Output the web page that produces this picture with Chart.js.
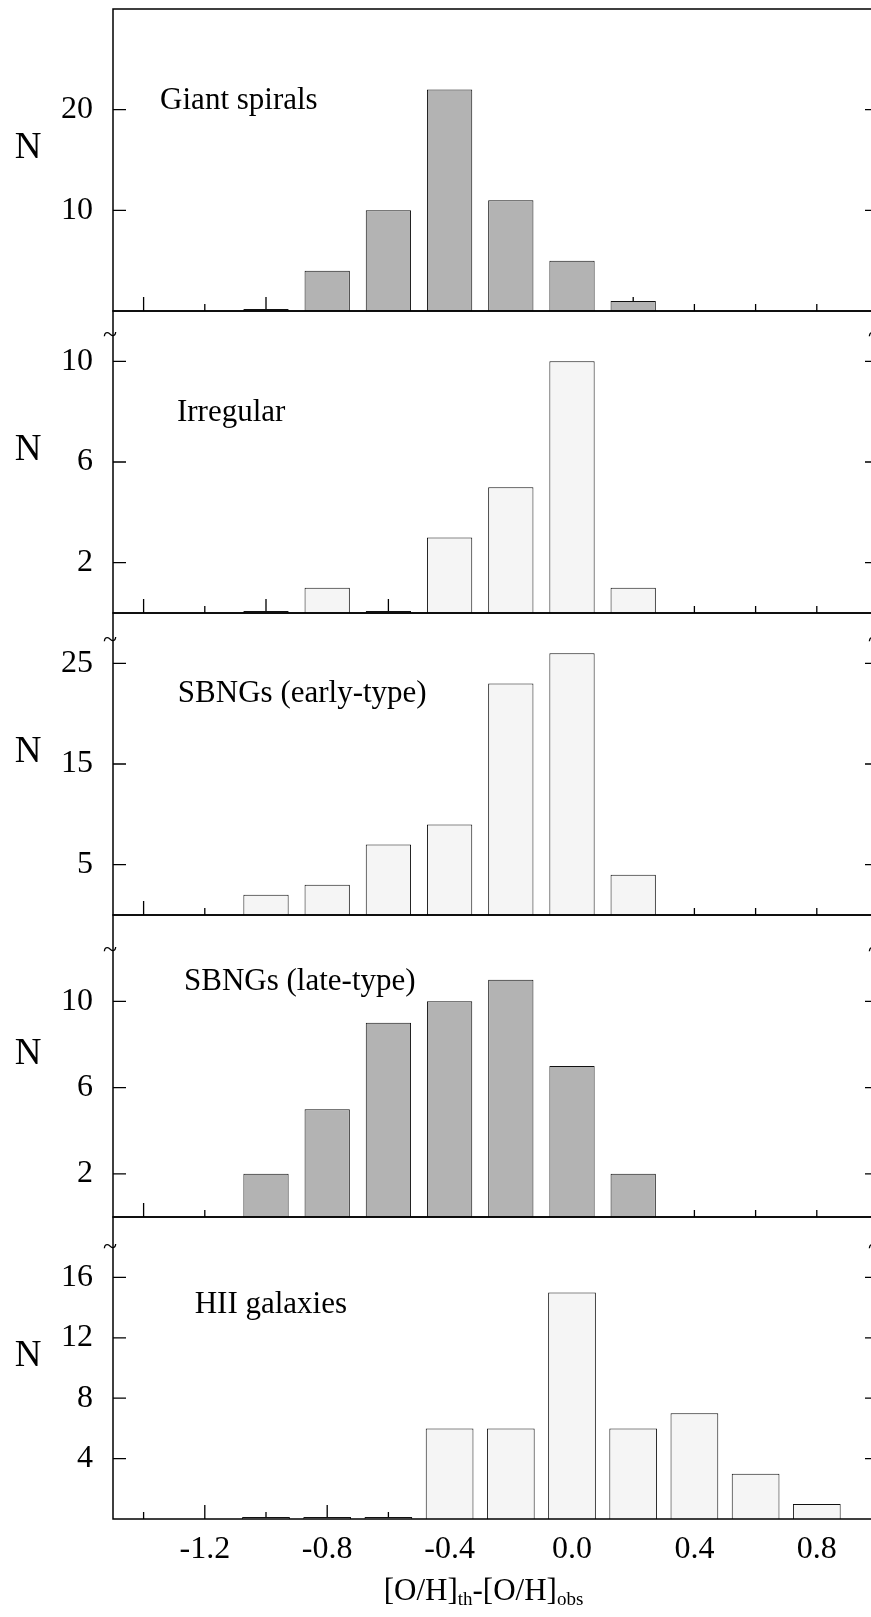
<!DOCTYPE html>
<html>
<head>
<meta charset="utf-8">
<title>[O/H] residual histograms</title>
<script src="https://cdn.jsdelivr.net/npm/chart.js@4.4.1/dist/chart.umd.min.js"></script>
<style>
  html, body { margin: 0; padding: 0; background: #fff; overflow: hidden; }
  #wrap { position: relative; width: 871px; height: 1617px; overflow: hidden; }
  .panel { position: absolute; left: 0; width: 880px; }
</style>
</head>
<body>
<div id="wrap">
  <div class="panel" style="top:-1px;height:322px"><canvas id="c0"></canvas></div>
  <div class="panel" style="top:301px;height:322px"><canvas id="c1"></canvas></div>
  <div class="panel" style="top:603px;height:322px"><canvas id="c2"></canvas></div>
  <div class="panel" style="top:905px;height:322px"><canvas id="c3"></canvas></div>
  <div class="panel" style="top:1207px;height:410px"><canvas id="c4"></canvas></div>
</div>
<script>
// bin centres of [O/H]th - [O/H]obs, and counts per galaxy class (null = no bar)
const bins = [-1.0, -0.8, -0.6, -0.4, -0.2, 0.0, 0.2, 0.4, 0.6, 0.8];
const giantSpirals = [0, 4, 10, 22, 11, 5, 1, null, null, null];
const irregular = [0, 1, 0, 3, 5, 10, 1, null, null, null];
const sbngEarly = [2, 3, 7, 9, 23, 26, 4, null, null, null];
const sbngLate = [2, 5, 9, 10, 11, 7, 2, null, null, null];
const hiiGalaxies = [0, 0, 0, 6, 6, 15, 6, 7, 3, 1];

const panelNames = ['Giant spirals', 'Irregular', 'SBNGs (early-type)', 'SBNGs (late-type)', 'HII galaxies'];
const yMax = [30, 12, 30, 14, 20];
const yTicks = [[10, 20], [2, 6, 10], [5, 15, 25], [2, 6, 10], [4, 8, 12, 16]];
const xTickLabels = [-1.2, -0.8, -0.4, 0.0, 0.4, 0.8];
const xTickMarks = [-1.4, -1.2, -1.0, -0.8, -0.6, -0.4, -0.2, 0.0, 0.2, 0.4, 0.6, 0.8];

// styling / placement (not data)
const serif = "'Liberation Serif', 'Times New Roman', serif";
const darkFill = '#b3b3b3';
const lightFill = '#f5f5f5';
const labelPos = [[-1.346, 20.1], [-1.291, 7.64], [-1.288, 21.2], [-1.268, 10.54], [-1.233, 13.65]];
const tildeOffset = [null, 24, 27, 35, 30];

const decor = {
  id: 'decor',
  beforeDatasetsDraw(chart, args, opts) {
    const { ctx, chartArea: a, scales: { x, y } } = chart;
    ctx.save();
    ctx.strokeStyle = '#000';
    ctx.lineWidth = 1.3;
    ctx.beginPath();
    xTickMarks.forEach((v, i) => {
      const long = opts.last ? i % 2 === 1 : (i % 2 === 0 && i <= 8);
      const px = x.getPixelForValue(v);
      ctx.moveTo(px, a.bottom);
      ctx.lineTo(px, a.bottom - (long ? 14 : 7));
    });
    yTicks[opts.idx].forEach(v => {
      const py = y.getPixelForValue(v);
      ctx.moveTo(a.left, py);
      ctx.lineTo(a.left + 13, py);
      ctx.moveTo(a.right, py);
      ctx.lineTo(a.right - 13, py);
    });
    ctx.stroke();
    ctx.restore();
  },
  afterDatasetsDraw(chart, args, opts) {
    const { ctx, chartArea: a, scales: { x, y } } = chart;
    const i = opts.idx;
    ctx.save();
    ctx.strokeStyle = '#000';
    ctx.lineWidth = 1.5;
    ctx.strokeRect(a.left, a.top, a.right - a.left, a.bottom - a.top);

    ctx.fillStyle = '#000';
    if (tildeOffset[i] !== null) {
      ctx.font = '26px ' + serif;
      ctx.textAlign = 'center';
      ctx.textBaseline = 'middle';
      ctx.fillText('~', a.left - 3, a.top + tildeOffset[i]);
      ctx.fillText('~', a.right - 3, a.top + tildeOffset[i]);
    }

    ctx.font = '31px ' + serif;
    ctx.textAlign = 'left';
    ctx.textBaseline = 'alphabetic';
    ctx.fillText(panelNames[i], x.getPixelForValue(labelPos[i][0]), y.getPixelForValue(labelPos[i][1]));

    ctx.font = '37px ' + serif;
    ctx.textAlign = 'center';
    ctx.textBaseline = 'middle';
    ctx.fillText('N', 28, (a.top + a.bottom) / 2 - 12);

    if (opts.last) {
      const big = '31px ' + serif, small = '19px ' + serif;
      const parts = [['[O/H]', big, 0], ['th', small, 5], ['-[O/H]', big, 0], ['obs', small, 5]];
      let total = 0;
      parts.forEach(p => { ctx.font = p[1]; total += ctx.measureText(p[0]).width; });
      let cx = (a.left + a.right) / 2 - 12 - total / 2;
      const base = a.bottom + 81;
      ctx.textAlign = 'left';
      ctx.textBaseline = 'alphabetic';
      parts.forEach(p => {
        ctx.font = p[1];
        ctx.fillText(p[0], cx, base + p[2]);
        cx += ctx.measureText(p[0]).width;
      });
    }
    ctx.restore();
  }
};

function makePanel(idx, counts, fill, barPct) {
  const last = idx === 4;
  return new Chart(document.getElementById('c' + idx), {
    type: 'bar',
    data: {
      datasets: [{
        data: bins.map((b, i) => ({ x: b, y: counts[i] })),
        backgroundColor: fill,
        borderColor: '#111',
        borderWidth: 1,
        barPercentage: barPct,
        categoryPercentage: 1,
        minBarLength: 2
      }]
    },
    options: {
      responsive: true,
      maintainAspectRatio: false,
      animation: false,
      layout: { padding: { top: 10, bottom: last ? 0 : 10, left: 0, right: 2 } },
      plugins: {
        legend: { display: false },
        tooltip: { enabled: false },
        decor: { idx: idx, last: last }
      },
      scales: {
        x: {
          type: 'linear',
          min: -1.5,
          max: 1.0,
          offset: false,
          display: last,
          grid: { display: false, drawTicks: false, offset: false },
          border: { display: false },
          afterBuildTicks: s => { s.ticks = xTickLabels.map(v => ({ value: v })); },
          afterFit: s => {
            if (last) s.height = 98;
            s.paddingLeft = 0;
            s.paddingRight = 0;
          },
          ticks: {
            color: '#000',
            font: { family: serif, size: 32 },
            padding: 11,
            maxRotation: 0,
            autoSkip: false,
            callback: v => v.toFixed(1)
          }
        },
        y: {
          min: 0,
          max: yMax[idx],
          grid: { display: false, drawTicks: false },
          border: { display: false },
          afterBuildTicks: s => { s.ticks = yTicks[idx].map(v => ({ value: v })); },
          afterFit: s => { s.width = 113; s.paddingTop = 0; s.paddingBottom = 0; },
          ticks: {
            color: '#000',
            font: { family: serif, size: 32 },
            padding: 20,
            callback: v => String(v)
          }
        }
      }
    },
    plugins: [decor]
  });
}

makePanel(0, giantSpirals, darkFill, 0.74);
makePanel(1, irregular, lightFill, 0.74);
makePanel(2, sbngEarly, lightFill, 0.74);
makePanel(3, sbngLate, darkFill, 0.74);
makePanel(4, hiiGalaxies, lightFill, 0.78);
</script>
</body>
</html>
